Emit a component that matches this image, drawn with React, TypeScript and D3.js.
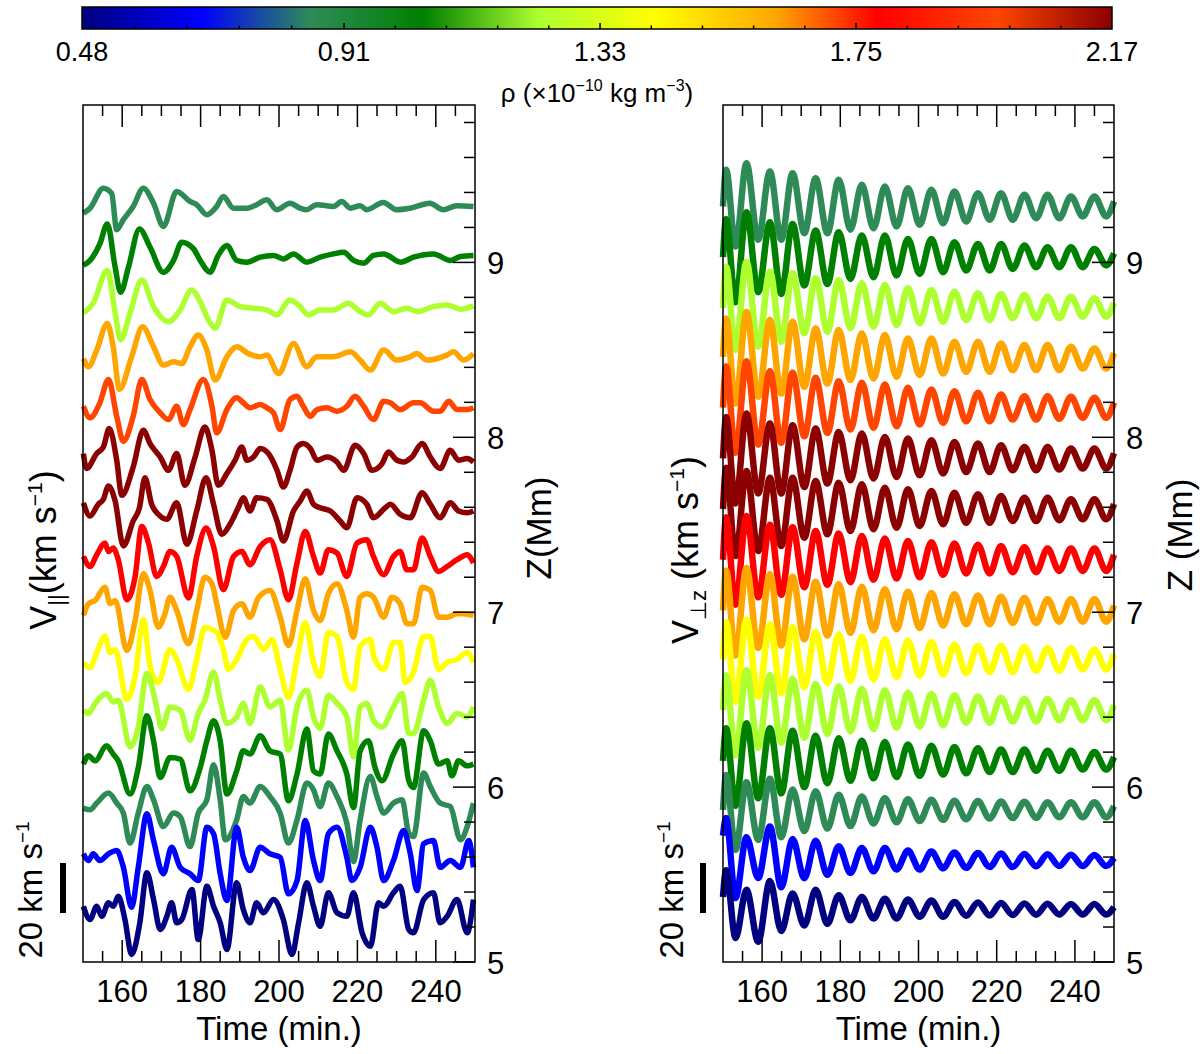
import React from 'react';
import * as d3 from 'd3';

const FONT = 'Liberation Sans, Arial, Helvetica, sans-serif';

// colour bar: density (x1e-10 kg m^-3)
const cbLabels = ['0.48', '0.91', '1.33', '1.75', '2.17'];
const cbStopValues = [0.48, 0.675, 0.855, 1.04, 1.23, 1.42, 1.62, 1.785, 1.98, 2.17];
const cbStopColors = ['#000080', '#0000ff', '#2e8b57', '#008000', '#adff2f', '#ffff00', '#ffa500', '#ff0000', '#ff4500', '#8b0000'];

// trace heights (Mm), bottom to top, and their colours
const heights = [5.30, 5.58, 5.87, 6.15, 6.44, 6.73, 7.01, 7.30, 7.59, 7.88, 8.17, 8.46, 8.74, 9.03, 9.32];
const traceColors = ['#000080', '#0000ff', '#2e8b57', '#008000', '#adff2f', '#ffff00', '#ffa500', '#ff0000', '#8b0000', '#8b0000', '#ff4500', '#ffa500', '#adff2f', '#008000', '#2e8b57'];

// V_par traces: [time (min), km/s], bottom to top
const vParData = [
  [[150.1,1.3],[151.8,-4],[153.5,1.3],[154.8,-2.7],[156.5,2.7],[157.7,1.3],[159,5.3],[160.7,-4],[162.4,-18],[164.5,-5.3],[166.3,14.7],[168,4],[169.7,-8],[171.4,-2.7],[172.6,2.7],[173.9,-5.3],[175.2,-4],[177.8,8],[179.4,-12],[181.6,9.3],[183.3,1.3],[185,-5.3],[186.7,-16],[189.2,10.7],[190.9,0],[192.6,-5.3],[194.3,2.7],[196,-1.3],[198.6,4],[201.1,-4],[203.3,-18],[205,-5.3],[207.1,10.7],[208.8,1.3],[210.5,-6.7],[212.6,6.7],[214.8,-1.3],[217.3,-2.7],[219,6.7],[221.2,-9.3],[223.3,-14.7],[225.4,2.7],[226.7,1.3],[229.2,6.7],[230.9,9.3],[233.1,-8],[234.3,-9.3],[236.9,4],[239.4,6.7],[241.1,-5.3],[242.9,-2.7],[245.4,4],[248,-9.3],[249.6,4]],
  [[150.1,2.7],[151.4,0],[152.6,2.7],[154.3,0],[156.5,2.7],[158.6,4],[160.3,-2.7],[162.4,-18.7],[164.1,-2.7],[166.3,18.7],[168,8],[170.5,-5.3],[172.6,5.3],[174.8,-2.7],[177.3,-5.3],[179.4,-8],[181.6,13.3],[183.3,10.7],[185,-5.3],[186.7,-16],[189.2,13.3],[190.9,1.3],[192.6,-4],[195.2,5.3],[197.7,2.7],[200.3,1.3],[202.4,-13.3],[204.6,-8],[206.7,16],[208.8,0],[210.5,-8],[212.6,10.7],[214.8,13.3],[217.3,1.3],[218.6,-8],[220.7,-2.7],[223.3,13.3],[225,5.3],[226.7,-8],[229.2,0],[231.8,12],[233.5,2.7],[235.2,-12],[236.9,6.7],[239.4,8],[241.1,-2.7],[243.7,0],[246.3,-2.7],[248.4,8],[249.6,-2.7]],
  [[150.1,0.7],[151.8,0],[153.5,2.7],[156.5,6.7],[158.6,2.7],[160.3,-1.3],[162,-13.3],[164.1,-1.3],[166.3,9.3],[168,4],[170.5,-6.7],[173.1,-1.3],[174.8,-2.7],[177.3,-14.7],[179.4,-1.3],[181.6,4],[183.3,18],[185,4],[186.3,-12],[189.2,-4],[190.9,5.3],[192.6,2.7],[195.2,9.3],[197.7,5.3],[200.3,-1.3],[202.4,-13.3],[204.6,-4],[207.1,10.7],[208.8,8],[210.5,1.3],[212.6,10.7],[214.8,5.3],[217.3,-5.3],[219,-20.7],[220.7,-4],[223.3,13.3],[225,5.3],[226.7,-1.3],[229.2,2.7],[231.4,4],[233.1,-9.3],[234.3,-10.7],[236.9,14.7],[238.6,9.3],[241.1,2.7],[243.7,1.3],[246.3,-12],[248,-6.7],[249.6,2.7]],
  [[150.1,-1.3],[151.4,2],[153.1,0],[156,6],[157.7,2.7],[159,0],[162,-13.3],[164.1,-2.7],[166.3,18],[168,8],[169.7,-6.7],[172.2,1.3],[174.8,0.7],[177.3,-12],[179.9,-2.7],[181.6,8],[183.3,16],[185,8],[186.7,-13.3],[189.2,-4],[190.9,4],[192.6,2.7],[195.2,10],[197.7,4],[200.3,2.7],[202.4,-16],[204.6,-5.3],[207.1,12.7],[208.8,-4],[210.5,-5.3],[212.6,10.7],[214.8,4],[217.3,-5.3],[219,-18.7],[220.7,4],[222.8,8],[224.5,-2.7],[226.3,-8],[229.2,2.7],[231.4,8],[233.1,-8],[234.3,-10.7],[236.9,12],[238.6,8],[240.7,-1.3],[242.9,0],[244.1,-6],[245.8,0],[248,-2],[249.6,-1.3]],
  [[150.1,0],[151.4,-1.3],[153.1,2.7],[156,6.7],[157.7,3.3],[159,4],[162,-14.7],[164.1,-6.7],[166.3,14.7],[168.4,4],[170.1,-7.3],[172.2,1.3],[174.8,0],[177.3,-12],[179.4,-1.3],[181.1,4],[183.3,15.3],[185,4],[186.7,-5.3],[189.2,-2.7],[190.9,2.7],[192.6,-5.3],[195.2,9.3],[197.7,1.3],[200.3,4],[202.4,-16],[204.6,1.3],[207.1,8],[208.8,-2.7],[210.5,-7.3],[212.6,6],[214.8,2.7],[217.3,-2.7],[219,-18.7],[220.7,1.3],[222.4,2.7],[224.1,-4],[226.3,-6.7],[229.2,1.3],[231.4,6.7],[233.1,-9.3],[234.3,-9.3],[236.9,4],[238.6,12],[240.7,1.3],[242.9,-5.3],[245.4,-1.3],[248,-2.7],[249.6,1.3]],
  [[150.1,-1.3],[151.8,-3.3],[153.5,2.7],[155.6,9.3],[156.9,2.7],[158.2,4],[161.2,-16],[163.3,-6.7],[165.4,16],[167.1,-2.7],[169.2,-9.3],[172.2,4],[173.9,0],[176.9,-12],[179,0],[181.1,12.8],[184.1,10.8],[185.8,4],[187.1,-4],[189.2,0],[191.8,8],[193.5,9.2],[196.1,4],[198.2,8],[200.3,-4],[202.4,-15.2],[204.6,0],[206.7,14.8],[208.8,-1.2],[210.5,-6.8],[212.6,10.8],[214.8,9.2],[217.3,-9.2],[219,-12],[220.7,5.2],[223.3,8],[224.2,1.2],[226.7,-4],[229.2,6.8],[230.9,6.8],[232.2,-9.2],[234.3,-5.2],[236.9,9.2],[238.6,9.2],[240.7,-4],[242.9,-1.2],[245.4,0],[248,2.8],[249.6,-1.2]],
  [[150.1,-2],[151.4,2.7],[153.1,4],[155.6,9.3],[156.9,2.7],[158.2,4],[161.2,-16],[163.3,-4],[165.4,14.7],[167.1,8],[169.2,-6.7],[170.9,-1.3],[172.2,5.3],[173.9,0],[176.9,-13.3],[179,0],[181.1,13.3],[182.9,10.7],[184.1,2.7],[186.3,-10.7],[188.4,0],[190.5,2.7],[192.6,-2.7],[194.8,5.3],[197.7,8],[200.3,-2.7],[202.4,-14],[204.6,0],[206.7,12.7],[208.8,0],[210.5,-4],[212.6,6.7],[214.8,10.7],[217.3,0],[219,-10.7],[220.7,5.3],[222.4,6.7],[224.1,5.3],[226.7,-2.7],[228.8,5.3],[230.9,2.7],[232.6,-5.3],[234.3,-5.3],[236.5,9.3],[238.6,8],[240.7,-2.7],[242.9,-2.7],[245.4,-1.3],[247.1,-1.3],[249.6,-2]],
  [[150.1,1.3],[151.8,-2.7],[153.5,2],[155.6,6.7],[156.5,3.3],[157.7,4.7],[159,0],[161.2,-16],[163.3,-6.7],[165,13.3],[166.7,6.7],[168.8,-6.7],[170.5,-2.7],[172.2,3.3],[173.9,1.3],[176.9,-15.3],[179,1.3],[181.4,12.7],[183.3,5.3],[185.8,-12],[188.4,1.3],[190.5,3.3],[192.6,-2],[195.2,5.3],[197.7,8],[200.3,-4],[202.4,-16],[204.6,-1.3],[206.7,11.3],[208.8,1.3],[210.5,-5.3],[212.6,4],[214.8,2.7],[217.3,-6.7],[219.9,6.7],[222.4,8],[224.1,1.3],[226.7,-6],[229.2,1.3],[230.9,3.3],[232.6,-4],[234.3,-4],[236.5,8.7],[238.6,1.3],[240.7,-4.7],[242.9,-2.7],[245.4,0],[248,2],[249.6,-1.3]],
  [[150.1,2.5],[151.8,-2.8],[153.9,1.9],[155.2,3.9],[156.5,9.2],[158.2,3.2],[160.3,-14.8],[162.8,-4.8],[164.4,0.5],[165.8,12.5],[167.5,1.9],[169.2,-2.1],[171.4,-4.1],[173.9,2.5],[176.5,-14.1],[179,-0.8],[181.4,12.5],[183.3,1.9],[185.4,-10.1],[187.5,-6.1],[189.6,0.5],[190.9,4.5],[192.6,-0.8],[194.3,4.5],[196.9,3.9],[199.5,-4.8],[201.1,-12.8],[203.7,-0.8],[205.4,3.2],[207.1,7.2],[208.8,1.9],[210.5,0.5],[213.1,-0.8],[215.6,-4.8],[217.3,-7.5],[219.9,4.5],[222.4,1.9],[224.1,-3.5],[227.1,0.5],[228.4,1.9],[230.9,-2.1],[233.5,-3.5],[236.5,6.5],[238.6,1.9],[241.1,-3.5],[243.7,2.5],[245.8,-0.8],[248,-1.5],[249.6,-0.8]],
  [[150.1,1.9],[150.9,-4.1],[153.5,1.9],[155.2,4.5],[156.7,11.9],[158.6,-0.8],[159.9,-14.8],[162.8,-3.5],[165.4,11.2],[167.1,5.9],[169.7,0.5],[171.8,-4.8],[173.9,1.9],[176,-10.8],[178.6,0.5],[181.1,12.5],[182.9,3.2],[184.5,-10.8],[186.7,-6.1],[188.8,-0.8],[190.5,4.5],[191.8,-0.8],[193.5,0.5],[195.2,3.9],[197.3,1.9],[199.5,-4.8],[201.1,-11.5],[202.8,-4.8],[204.6,4.5],[206.2,5.9],[208,3.9],[209.7,-0.8],[212.2,0.5],[214.8,-1.5],[216.5,-4.8],[219.4,5.2],[221.6,1.9],[223.7,-4.8],[226.3,-2.1],[227.9,2.5],[230.1,-0.8],[231.8,-1.5],[233.9,0.5],[236.5,5.9],[238.6,0.5],[241.1,-4.1],[243.7,3.2],[245.8,-0.8],[248,-0.1],[249.6,-1.5]],
  [[150.1,0.5],[151.8,-4.1],[154.3,1.9],[156.5,11.2],[158.6,-3.5],[160.3,-13.5],[162.8,-3.5],[165,11.2],[167.1,3.2],[169.7,-2.1],[171.8,-4.8],[173.9,0.5],[175.6,-6.8],[177.3,-0.8],[180.7,11.2],[182.9,0.5],[184.1,-10.1],[186.7,-0.8],[189.2,3.9],[190.9,1.9],[192.6,-0.1],[195.2,1.2],[196.9,-0.1],[198.6,-2.1],[200.3,-8.8],[202.8,3.2],[204.6,4.5],[206.2,0.5],[208,-3.5],[209.7,-0.8],[212.2,-0.1],[214.8,-1.5],[217.3,0.5],[219.4,4.5],[221.6,0.5],[224.1,-4.8],[226.7,2.5],[228.4,1.9],[230.9,-0.8],[234.3,1.9],[236,1.9],[239.4,-1.5],[241.1,-1.5],[243.3,2.5],[245.4,-0.8],[248,-0.8],[249.6,-0.1]],
  [[150.1,-0.7],[151.4,-4],[153.5,2.7],[156.2,13.3],[157.7,4],[159.3,-13],[162.4,0],[165.2,12],[168,4],[170.5,-3.3],[173.1,-2],[175.2,-2.7],[177.3,4],[179.4,8.7],[181.6,2.7],[183.7,-9.3],[186.7,0],[189.2,4],[192.2,1.3],[195.2,0],[196.9,0.7],[199.9,-6.7],[203.7,5.3],[207.1,-4],[209.6,0],[213.9,0],[218.2,2],[220.7,-1.3],[223.3,-5.3],[226.7,2.7],[230,-1.3],[233.4,0],[235.2,1.3],[237.7,-1.3],[242.8,0.7],[244.5,2],[247.1,-1.3],[249.6,1.3]],
  [[150.1,-2.1],[152.6,1.9],[156.2,15],[158.2,-2.1],[159.6,-12.8],[162,-2.1],[165,11.2],[168,0.5],[171.8,-5.5],[174.8,-0.8],[177.7,7.2],[179.9,2.5],[182,-4.8],[183.7,-8.1],[186.7,3.2],[190.1,0.5],[193.5,-0.1],[196.9,-0.8],[199.4,-2.8],[202.8,3.2],[205.4,0.5],[207.5,-2.8],[210.5,-0.8],[213.9,-0.8],[217.7,1.9],[220.7,-1.5],[222.8,-2.8],[225.8,1.9],[229.2,-1.5],[232.6,-0.1],[235.2,-1.5],[239.4,0.5],[242.8,1.2],[246.3,-0.5],[249.6,0.8]],
  [[150.1,-3.3],[151.8,-1.3],[154.3,5.3],[156.2,13.3],[158.2,-4],[159.6,-14],[161.6,-4],[164.4,11.3],[167.1,4],[170.5,-6],[173.1,-1.3],[175.2,6],[178.2,3.3],[179.9,-1.3],[182.4,-6],[184.5,0.7],[186.7,4.7],[189.2,-1.3],[191.8,-2],[195.2,0],[198.6,0.7],[201.1,-0.7],[203.7,1.3],[207.1,-2],[210.5,0],[213.9,1.3],[216.5,2],[219,-1.3],[221.6,-2.4],[224.1,0.7],[226.7,1.3],[231,-2],[234.3,0],[239.4,1.3],[243.7,-1.3],[246.3,0.3],[249.6,0.7]],
  [[150.1,-2.7],[151.8,-0.7],[155.2,7.3],[157.3,5.3],[158.6,-9.3],[160.3,-5.3],[162.8,0],[165.4,7.3],[168,1.3],[170.5,-8],[173.9,6],[177.3,2],[179,0.7],[181.6,-3.3],[184.1,0],[185.8,4],[188.4,-0.7],[191.8,-0.7],[194.3,0.7],[196.9,2.7],[199.4,-1.3],[202.8,1.3],[205.4,-0.7],[207.1,-1.3],[209.6,0.7],[213.9,0],[216,2],[218.2,-0.7],[220.7,0.3],[222.4,-1.3],[226.6,1.6],[230,-1.3],[233.4,-0.7],[238.5,1.3],[241.9,-1.3],[245.3,0.3],[249.6,0]],
];

// V_perp,z traces: extrema times (min) shared, values (km/s) bottom to top
const perpTimes = [150, 150.8, 153.2, 156.0, 159.0, 162.0, 164.9, 167.8, 170.8, 173.7, 176.7, 179.6, 182.6, 185.5, 188.5, 191.4, 194.4, 197.3, 200.3, 203.3, 206.3, 209.2, 212.2, 215.2, 218.2, 221.1, 224.1, 227.1, 230.1, 233.0, 236.0, 239.0, 242.0, 245.0, 248.0, 250];
const perpData = [
  [5, 15.7,-11.4, 7.9,-12.9, 11.4,-8.6, 6.4,-6.4, 7.9,-5.7, 5.7,-4.3, 5,-3.6, 4.3,-3.6, 4,-2.9, 3.6,-2.9, 3,-2.5, 2.8,-2.4, 2.6,-2.2, 2.4,-2.1, 2.3,-2, 2.2,-2, 2.2,-2, 1],
  [10, 17,-15, 9.3,-7, 13.6,-10.7, 8.6,-7.1, 7.9,-5.7, 5.7,-5, 5,-4.3, 5,-3.6, 4,-3.6, 3.6,-3.1, 3.2,-2.9, 3,-2.6, 2.8,-2.6, 2.6,-2.3, 2.5,-2.2, 2.3,-2.2, 2.2,-2.2, 1],
  [0, 13.9,-16, 11,-12, 12.4,-11, 8.1,-8.5, 7.4,-7.5, 6,-6.5, 5.3,-5.5, 4.6,-5, 4.2,-4.5, 4,-4, 3.6,-3.8, 3.5,-3.5, 3.3,-3.3, 3.2,-3.2, 3,-3, 3,-3, 3,-3, 1.5],
  [0, 13,-18, 15,-15, 13,-13, 12,-10.5, 10,-9, 9,-8, 8,-7, 7.5,-6.5, 6.5,-6, 6,-5.5, 5.5,-5, 5,-4.5, 4.5,-4.5, 4.5,-4, 4,-4, 4,-3.5, 3.5,-3.5, 1.5],
  [0, 14,-18, 16,-15, 14,-13, 12.5,-11, 10.5,-9.5, 9.5,-8.5, 8.5,-7.5, 8,-7, 7,-6.5, 6.5,-6, 6,-5, 5.5,-5, 5,-4.5, 4.5,-4.5, 4.5,-4, 4,-4, 4,-4, 2],
  [0, 15,-17, 16,-15, 14,-13.5, 13,-11, 11,-9.5, 10,-8.5, 9,-8, 8,-7, 7.5,-6.5, 7,-6, 6,-5.5, 5.5,-5, 5.5,-5, 5,-4.5, 4.5,-4.5, 4.5,-4, 4,-4, 2],
  [0, 16,-18, 17,-15, 14.5,-14, 13.5,-11.5, 11.5,-10, 10.5,-9, 9.5,-8, 8.5,-7.5, 7.5,-7, 7,-6, 6.5,-5.5, 6,-5.5, 5.5,-5, 5,-5, 4.5,-4.5, 4.5,-4.5, 4.5,-4.5, 2],
  [0, 17,-18, 17.5,-15, 14,-14, 13,-11, 11.5,-10, 10.5,-9, 9.5,-8, 8.5,-7.5, 7.5,-7, 7,-6, 6.5,-5.5, 6,-5.5, 5.5,-5, 5,-5, 4.5,-4.5, 4.5,-4.5, 4.5,-4.5, 2],
  [0, 16.5,-18.8, 15.2,-16.8, 12.5,-14.8, 12.5,-11.5, 11.2,-10.1, 10.5,-8.8, 9.9,-8.1, 8.5,-7.5, 7.9,-6.8, 7.2,-6.1, 6.5,-5.5, 5.9,-5.5, 5.2,-4.8, 4.5,-4.8, 4.5,-4.5, 3.9,-4.1, 3.9,-4.1, 2],
  [0, 16.5,-18.1, 17.9,-14.1, 13.9,-14.1, 13.2,-11.5, 11.9,-10.1, 10.5,-8.8, 9.9,-8.1, 8.5,-7.5, 7.9,-6.8, 7.2,-6.1, 6.5,-5.5, 5.9,-5.5, 5.2,-4.8, 4.5,-4.8, 4.5,-4.5, 3.9,-4.1, 3.9,-4.1, 2],
  [0, 16.5,-18.1, 18.5,-14.8, 14.5,-14.1, 13.9,-11.5, 11.9,-10.1, 10.5,-8.8, 9.9,-8.1, 9.2,-7.5, 7.9,-6.8, 7.2,-6.1, 6.5,-5.5, 5.9,-5.5, 5.2,-4.8, 4.5,-4.8, 4.5,-4.5, 4.3,-4.1, 3.9,-4.1, 2],
  [0, 15.3,-18.7, 18,-16, 14.7,-14.7, 14,-12, 11.3,-10.7, 10.7,-9.3, 9.3,-8.7, 8.7,-8, 7.3,-7.3, 7.3,-6.7, 6,-6, 6,-6, 5.3,-5.3, 4.7,-5.3, 4.7,-5.3, 4,-4.7, 3.3,-4.7, 1.5],
  [0, 16.5,-16.8, 18.5,-15.5, 14.5,-13.5, 13.9,-10.1, 11.9,-9.5, 11.2,-8.1, 9.9,-7.5, 9.2,-6.8, 7.9,-6.1, 7.2,-5.5, 6.5,-4.8, 5.9,-4.8, 5.6,-4.1, 5.2,-4.1, 4.5,-4.1, 4.5,-3.5, 3.9,-3.5, 2],
  [0, 15.3,-18, 18,-14, 14,-14.7, 13.3,-11.3, 10.7,-10.7, 10,-8.7, 8.7,-8, 8.7,-7.3, 7.3,-6.7, 7.3,-6, 6,-5.3, 5.3,-5.3, 5.3,-4.7, 4.7,-4, 4,-4, 4,-4, 3.3,-3.3, 1.5],
  [0, 14.7,-16, 17.3,-13.3, 14,-13.3, 13.3,-10.7, 11.3,-10.7, 10.7,-9.3, 8.7,-8.7, 8,-8, 7.3,-7.3, 6.7,-6.7, 6,-6, 5.3,-5.3, 5.3,-5.3, 4.7,-4.7, 4.7,-4.7, 4,-4, 4,-4, 2],
];

const W = 1200;
const H = 1054;
const cbBox = { x0: 82, x1: 1112, y0: 7, y1: 29 };
const plotTop = 105;
const plotBottom = 962;

const zScale = d3.scaleLinear().domain([5, 9.9]).range([plotBottom, plotTop]);
const vScale = d3.scaleLinear().domain([0, 20]).range([0, 50]);
const cbScale = d3.scaleLinear().domain([0.48, 2.17]).range([cbBox.x0, cbBox.x1]);

const Panel = ({ x0, x1, series, curve, sw, zTitle, zTitleX, zTitleY, vTitle, vTitleX, barX, barLabelX }) => {
  const t = d3.scaleLinear().domain([150, 250]).range([x0, x1]);
  const xTicks = t.ticks(20).filter((v) => v > 150 && v < 250);
  const zTicks = zScale.ticks(25);
  const isInt = (v) => Math.abs(v - Math.round(v)) < 1e-6;

  const order = d3.range(series.length).reverse(); // top traces first, lower ones drawn over
  return (
    <g>
      {order.map((i) => {
        const base = zScale(heights[i]);
        const line = d3.line().x((d) => t(d[0])).y((d) => base - vScale(d[1])).curve(curve);
        return (
          <path key={i} d={line(series[i])} fill="none" stroke={traceColors[i]}
            strokeWidth={sw} strokeLinejoin="round" />
        );
      })}

      <rect x={x0} y={plotTop} width={x1 - x0} height={plotBottom - plotTop} fill="none" stroke="#000" strokeWidth={1.5} />

      {xTicks.map((v) => {
        const len = v % 20 === 0 ? 22 : 11;
        return (
          <g key={v} stroke="#000" strokeWidth={1.5}>
            <line x1={t(v)} x2={t(v)} y1={plotBottom} y2={plotBottom - len} />
            <line x1={t(v)} x2={t(v)} y1={plotTop} y2={plotTop + len} />
          </g>
        );
      })}
      {xTicks.filter((v) => v % 20 === 0).map((v) => (
        <text key={v} x={t(v)} y={1002} textAnchor="middle" fontSize={31}>{v}</text>
      ))}
      <text x={(x0 + x1) / 2} y={1040} textAnchor="middle" fontSize={33}>Time (min.)</text>

      {zTicks.map((v) => (
        <line key={v} x1={x1} x2={x1 - (isInt(v) ? 22 : 11)} y1={zScale(v)} y2={zScale(v)} stroke="#000" strokeWidth={1.5} />
      ))}
      {zTicks.filter(isInt).map((v) => (
        <text key={v} x={x1 + 12} y={zScale(v) + 12} fontSize={31}>{Math.round(v)}</text>
      ))}
      <text transform={`translate(${zTitleX},${zTitleY}) rotate(-90)`} textAnchor="middle" fontSize={35}>{zTitle}</text>

      <text transform={`translate(${vTitleX},550) rotate(-90)`} textAnchor="middle" fontSize={36}>{vTitle}</text>

      <line x1={barX} x2={barX} y1={plotBottom - 49 - vScale(20)} y2={plotBottom - 49} stroke="#000" strokeWidth={6} />
      <text transform={`translate(${barLabelX},890) rotate(-90)`} textAnchor="middle" fontSize={33}>
        20 km s<tspan dy={-13} fontSize={19}>−1</tspan>
      </text>
    </g>
  );
};

export default function App() {
  const cbMajor = cbLabels.map(Number);
  const cbMinor = [];
  for (let k = 0; k < cbMajor.length - 1; k++) {
    const a = cbMajor[k];
    const b = cbMajor[k + 1];
    for (let j = 1; j < 5; j++) cbMinor.push(a + ((b - a) * j) / 5);
  }
  const rightSeries = perpData.map((vals) => vals.map((v, j) => [perpTimes[j], v]));

  return (
    <svg width={W} height={H} style={{ position: 'absolute', left: 0, top: 0, background: '#fff' }} fontFamily={FONT}>
      <defs>
        <linearGradient id="cbGrad" x1="0" x2="1" y1="0" y2="0">
          {cbStopValues.map((v, i) => (
            <stop key={i} offset={(v - 0.48) / (2.17 - 0.48)} stopColor={cbStopColors[i]} />
          ))}
        </linearGradient>
      </defs>

      <rect x={cbBox.x0} y={cbBox.y0} width={cbBox.x1 - cbBox.x0} height={cbBox.y1 - cbBox.y0} fill="url(#cbGrad)" stroke="#000" strokeWidth={1.5} />
      {cbMajor.slice(1, -1).map((v) => (
        <line key={v} x1={cbScale(v)} x2={cbScale(v)} y1={cbBox.y1} y2={cbBox.y1 - 6} stroke="#000" strokeWidth={1.5} />
      ))}
      {cbMinor.map((v, i) => (
        <line key={i} x1={cbScale(v)} x2={cbScale(v)} y1={cbBox.y1} y2={cbBox.y1 - 3.5} stroke="#000" strokeWidth={1.5} />
      ))}
      {cbLabels.map((s) => (
        <text key={s} x={cbScale(Number(s))} y={61} textAnchor="middle" fontSize={27}>{s}</text>
      ))}
      <text x={597} y={102} textAnchor="middle" fontSize={26}>
        ρ (×10<tspan dy={-11} fontSize={16}>−10</tspan><tspan dy={11}> kg m</tspan><tspan dy={-11} fontSize={16}>−3</tspan><tspan dy={11}>)</tspan>
      </text>

      <Panel x0={83} x1={475} series={vParData} curve={d3.curveMonotoneX} sw={5.5}
        zTitle="Z(Mm)" zTitleX={551} zTitleY={528}
        vTitle={<>V<tspan dy={8} fontSize={22}>||</tspan><tspan dy={-8}>(km s</tspan><tspan dy={-14} fontSize={21}>−1</tspan><tspan dy={14}>)</tspan></>}
        vTitleX={56} barX={63} barLabelX={42} />

      <Panel x0={723} x1={1114} series={rightSeries} curve={d3.curveMonotoneX} sw={6.5}
        zTitle="Z (Mm)" zTitleX={1192} zTitleY={535}
        vTitle={<>V<tspan dy={8} fontSize={22}>⊥z</tspan><tspan dy={-8}> (km s</tspan><tspan dy={-14} fontSize={21}>−1</tspan><tspan dy={14}>)</tspan></>}
        vTitleX={698} barX={703} barLabelX={683} />
    </svg>
  );
}
